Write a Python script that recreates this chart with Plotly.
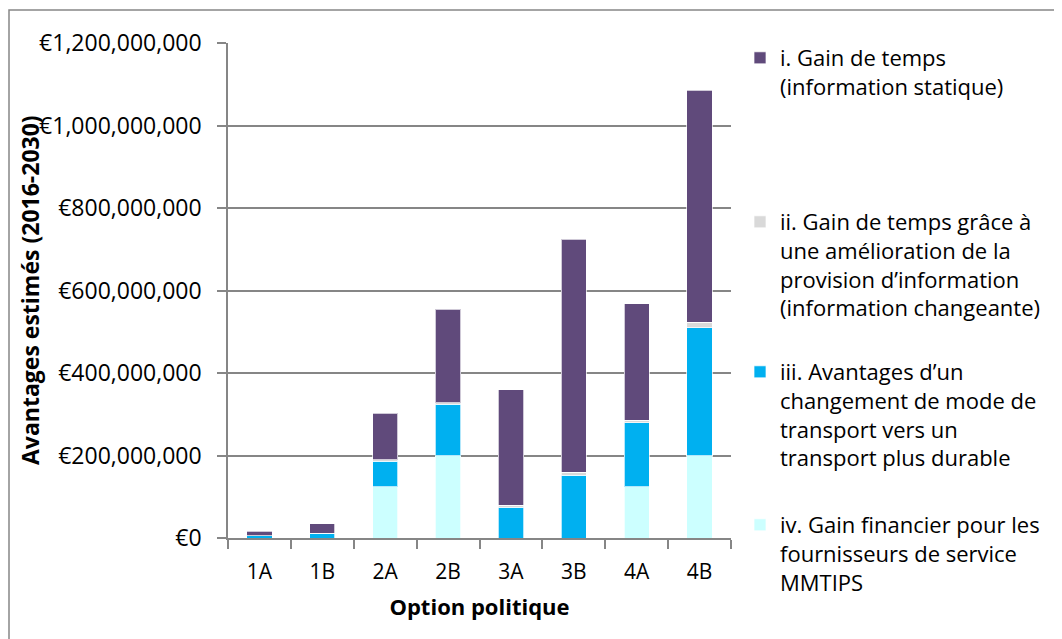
import plotly.graph_objects as go

# Estimated benefits per policy option, in millions of euros
options = ["1A", "1B", "2A", "2B", "3A", "3B", "4A", "4B"]
gain_temps_statique = [10, 24, 112, 226, 281, 565, 282, 563]
gain_temps_changeante = [1, 1, 4, 4, 4, 7, 6, 13]
changement_mode = [5, 10, 62, 124, 75, 152, 156, 310]
gain_financier = [0, 0, 124, 200, 0, 0, 124, 200]

y_ticks = [0, 200, 400, 600, 800, 1000, 1200]
y_tick_labels = ["\u20ac0", "\u20ac200,000,000", "\u20ac400,000,000", "\u20ac600,000,000",
                 "\u20ac800,000,000", "\u20ac1,000,000,000", "\u20ac1,200,000,000"]

FONT = "Open Sans"
GRID = "#868686"

# page body adds an 8px offset, so the figure is laid out 8px smaller
OFF = 8
W, H = 1062 - OFF, 639 - OFF
M_L, M_T = 228 - OFF, 43 - OFF
PW, PH = 503, 495
M_R, M_B = W - M_L - PW, H - M_T - PH


def px_x(px):
    return (px - OFF - M_L) / PW


def px_y(py):
    return (M_T + PH - (py - OFF)) / PH


series = [
    ("iv. Gain financier pour les<br>fournisseurs de service<br>MMTIPS",
     gain_financier, "#CCFFFF", "legend4", 504),
    ("iii. Avantages d\u2019un<br>changement de mode de<br>transport vers un<br>transport plus durable",
     changement_mode, "#00B0F0", "legend3", 351),
    ("ii. Gain de temps gr\u00e2ce \u00e0<br>une am\u00e9lioration de la<br>provision d\u2019information<br>(information changeante)",
     gain_temps_changeante, "#D9D9D9", "legend2", 201),
    ("i. Gain de temps<br>(information statique)",
     gain_temps_statique, "#604A7B", "legend", 37),
]

fig = go.Figure()
for name, vals, color, leg, _ in series:
    fig.add_trace(go.Bar(
        x=options, y=[v * 1e6 for v in vals], name=name,
        marker=dict(color=color, line=dict(color="rgba(255,255,255,0.7)", width=1)),
        legend=leg,
    ))

legend_style = dict(font=dict(family=FONT, size=22, color="#000000"),
                    bgcolor="rgba(0,0,0,0)", borderwidth=0, valign="top",
                    xanchor="left", yanchor="top", x=px_x(740))

fig.update_layout(
    width=W, height=H,
    margin=dict(l=M_L, r=M_R, t=M_T, b=M_B),
    barmode="stack",
    bargap=0.6,
    paper_bgcolor="white",
    plot_bgcolor="white",
    font=dict(family=FONT, size=22, color="#000000"),
    showlegend=True,
)
for _, _, _, leg, top in series:
    fig.update_layout({leg: dict(legend_style, y=px_y(top))})

fig.update_xaxes(
    showline=True, linecolor=GRID, linewidth=1.5,
    ticks="outside", tickson="boundaries", ticklen=9, tickcolor=GRID, tickwidth=1.5,
    ticklabelstandoff=14,
    tickfont=dict(family=FONT, size=21),
    title=dict(text="<b>Option politique</b>", font=dict(family=FONT, size=22), standoff=16),
)
fig.update_yaxes(
    range=[0, 1.2e9],
    tickvals=[t * 1e6 for t in y_ticks],
    ticktext=y_tick_labels,
    showgrid=True, gridcolor=GRID, gridwidth=1.5,
    showline=True, linecolor=GRID, linewidth=1.5,
    zeroline=False,
    ticks="outside", ticklen=9, tickcolor=GRID, tickwidth=1.5,
    ticklabelstandoff=11,
    tickfont=dict(family=FONT, size=23),
)

fig.add_annotation(
    text="<b>Avantages estim\u00e9s (2016-2030)</b>",
    xref="paper", yref="paper", x=px_x(30), y=px_y(290),
    xanchor="center", yanchor="middle", textangle=-90, showarrow=False,
    font=dict(family=FONT, size=23, color="#000000"),
)

# outer chart border
fig.add_shape(type="rect", xref="paper", yref="paper",
              x0=px_x(9), x1=px_x(1075), y0=px_y(660), y1=px_y(10),
              line=dict(color=GRID, width=1.5), fillcolor="rgba(0,0,0,0)", layer="below")

fig.write_html("out.html")
